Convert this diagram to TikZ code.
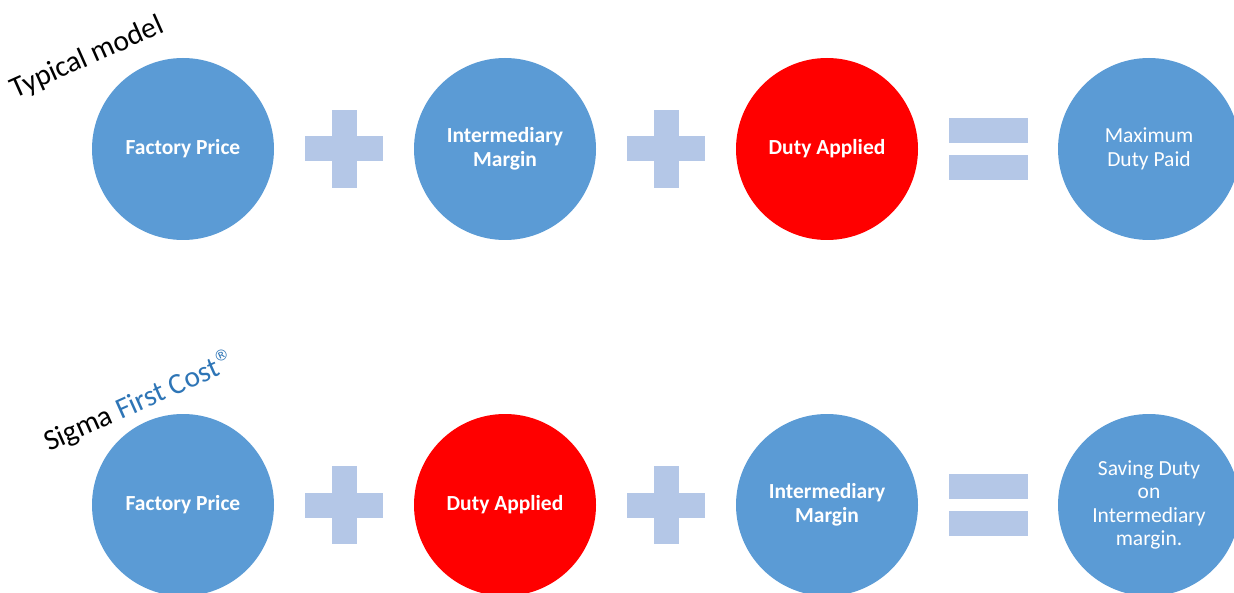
\documentclass[tikz,border=0pt]{standalone}
\usepackage{fontspec}
\setmainfont{Carlito}
\newfontfamily\symbolfont{DejaVu Sans}
\definecolor{dotblue}{HTML}{5B9BD5}
\definecolor{signblue}{HTML}{B4C7E7}
\definecolor{costblue}{HTML}{2E75B6}
\tikzset{
  bubble/.style={circle,fill=dotblue,minimum size=182pt,inner sep=0pt,
    text=white,align=center,font=\fontsize{21.5}{23.5}\selectfont},
  dutybubble/.style={bubble,fill=red},
  strong/.style={font=\fontsize{21.5}{23.5}\selectfont\bfseries},
  rowtitle/.style={anchor=base west,rotate=24,font=\fontsize{29.5}{31}\selectfont},
  plus sign/.pic={
    \fill[signblue] (-39,-12.5) rectangle (39,12.5);
    \fill[signblue] (-12.5,-39) rectangle (12.5,39);
  },
  equals sign/.pic={
    \fill[signblue] (-39.5,-31) rectangle (39.5,-6);
    \fill[signblue] (-39.5,6) rectangle (39.5,31);
  }
}

\begin{document}
\begin{tikzpicture}[x=1pt,y=-1pt]

    % Page frame (y grows downwards)
    \useasboundingbox (0,0) rectangle (1234,593);
    \clip (0,0) rectangle (1234,593);

    % Column and row positions
    \def\xa{183}
    \def\xb{505}
    \def\xc{827}
    \def\xd{1149}
    \def\ytop{149}
    \def\ybot{505}

    % -- Top row: typical model --
    \node[rowtitle] (typ) at (12,100) {Typical model};

    \node[bubble,strong] (fp1) at (\xa,\ytop) {Factory Price};
    \node[bubble,strong] (im1) at (\xb,\ytop) {Intermediary\\Margin};
    \node[dutybubble,strong] (da1) at (\xc,\ytop) {Duty Applied};
    \node[bubble] (mx) at (\xd,\ytop) {Maximum\\Duty Paid};

    \pic at ({(\xa+\xb)/2},\ytop) {plus sign};
    \pic at ({(\xb+\xc)/2},\ytop) {plus sign};
    \pic at ({(\xc+\xd)/2},\ytop) {equals sign};

    % -- Bottom row: duty before the margin --
    \node[rowtitle] (sfc) at (46,453)
      {Sigma \textcolor{costblue}{First Cost\raisebox{0.9ex}{\symbolfont\fontsize{15}{15}\selectfont ®}}};

    \node[bubble,strong] (fp2) at (\xa,\ybot) {Factory Price};
    \node[dutybubble,strong] (da2) at (\xb,\ybot) {Duty Applied};
    \node[bubble,strong] (im2) at (\xc,\ybot) {Intermediary\\Margin};
    \node[bubble] (sv) at (\xd,\ybot) {Saving Duty\\on\\Intermediary\\margin.};

    \pic at ({(\xa+\xb)/2},\ybot) {plus sign};
    \pic at ({(\xb+\xc)/2},\ybot) {plus sign};
    \pic at ({(\xc+\xd)/2},\ybot) {equals sign};

\end{tikzpicture}
\end{document}
